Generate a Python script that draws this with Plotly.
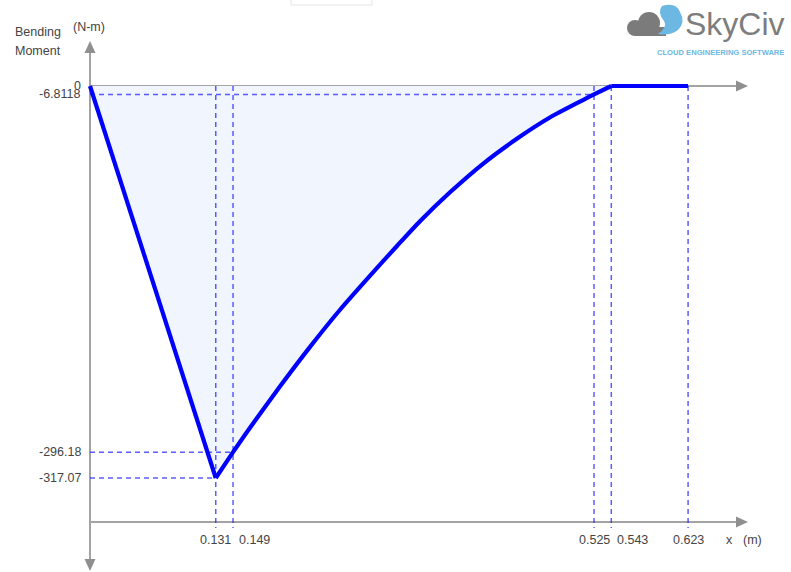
import plotly.graph_objects as go

# ---- Bending moment diagram (x in m, M in N-m) ----
# straight segment from the left support to the peak
x_rise = [0.0, 0.131]
m_rise = [0.0, -317.07]
# curved segment from the peak back to zero
x_curve = [0.131, 0.149, 0.165, 0.198, 0.229, 0.260, 0.292, 0.320, 0.344,
           0.375, 0.410, 0.445, 0.479, 0.514, 0.525, 0.543]
m_curve = [-317.07, -296.18, -278.2, -242.9, -211.2, -181.4, -153.2, -129.2, -109.2,
           -86.0, -62.5, -42.5, -25.5, -11.2, -6.8118, 0.0]
# zero-moment tail
x_tail = [0.543, 0.623]
m_tail = [0.0, 0.0]

# labelled points
x_ticks = [0.131, 0.149, 0.525, 0.543, 0.623]
x_tick_labels = ["0.131", "0.149", "0.525", "0.543", "0.623"]
y_ticks = [0.0, -6.8118, -296.18, -317.07]
y_tick_labels = ["0", "-6.8118", "-296.18", "-317.07"]
# horizontal guide lines: (x end, moment)
h_guides_x = [0.525, 0.149, 0.131]
h_guides_m = [-6.8118, -296.18, -317.07]

# ---- drawing geometry (pixels) ----
W, H = 791, 572
X0_PX, PX_PER_M = 90.0, 960.0
Y0_PX, PX_PER_NM = 86.0, 1.2363
AXIS_BOTTOM_PX = 522
GUIDE_END_PX = 528

def dx(px):
    return (px - X0_PX) / PX_PER_M

def dy(py):
    return -(py - Y0_PX) / PX_PER_NM

def px(p):
    return p / W

def py(p):
    return 1 - p / H

LINE_BLUE = "#0000ff"
FILL = "#f0f5fe"
GUIDE = "rgba(30,30,255,0.72)"
AXIS = "#a3a3a3"
TXT = "#444444"
FONT = "Liberation Sans, Arial, sans-serif"
SMOOTH = 0.6

fig = go.Figure()

# shaded area under the diagram
fig.add_trace(go.Scatter(x=x_rise, y=m_rise, mode="lines", fill="tozeroy", fillcolor=FILL,
                         line=dict(width=0), hoverinfo="skip", showlegend=False))
fig.add_trace(go.Scatter(x=x_curve, y=m_curve, mode="lines", fill="tozeroy", fillcolor=FILL,
                         line=dict(width=0, shape="spline", smoothing=SMOOTH),
                         hoverinfo="skip", showlegend=False))

# dashed guide lines
y_bottom = dy(GUIDE_END_PX)
for xv in x_ticks:
    fig.add_trace(go.Scatter(
        x=[xv, xv], y=[0, y_bottom], mode="lines",
        line=dict(color=GUIDE, width=1.5, dash="5px,4px"),
        hoverinfo="skip", showlegend=False))
for xe, mv in zip(h_guides_x, h_guides_m):
    fig.add_trace(go.Scatter(
        x=[0, xe], y=[mv, mv], mode="lines",
        line=dict(color=GUIDE, width=1.5, dash="5px,4px"),
        hoverinfo="skip", showlegend=False))

# the moment line itself
fig.add_trace(go.Scatter(x=x_rise, y=m_rise, mode="lines",
                         line=dict(color=LINE_BLUE, width=4.2), showlegend=False))
fig.add_trace(go.Scatter(x=x_curve, y=m_curve, mode="lines",
                         line=dict(color=LINE_BLUE, width=4.2, shape="spline", smoothing=SMOOTH),
                         showlegend=False))
fig.add_trace(go.Scatter(x=x_tail, y=m_tail, mode="lines",
                         line=dict(color=LINE_BLUE, width=4.2), showlegend=False))

shapes = []
# axes lines
shapes.append(dict(type="line", xref="paper", yref="paper", layer="below",
                   x0=px(90), x1=px(90), y0=py(50), y1=py(562),
                   line=dict(color=AXIS, width=2)))
shapes.append(dict(type="line", xref="paper", yref="y", layer="below",
                   x0=px(90), x1=px(740), y0=0, y1=0,
                   line=dict(color=AXIS, width=2)))
shapes.append(dict(type="line", xref="paper", yref="paper", layer="below",
                   x0=px(90), x1=px(740), y0=py(AXIS_BOTTOM_PX), y1=py(AXIS_BOTTOM_PX),
                   line=dict(color=AXIS, width=2)))

def tri(points):
    d = "M " + " L ".join(f"{px(a)},{py(b)}" for a, b in points) + " Z"
    return dict(type="path", xref="paper", yref="paper", path=d,
                fillcolor="#8f8f8f", line=dict(width=0))

shapes.append(tri([(90, 41), (84.5, 53), (95.5, 53)]))
shapes.append(tri([(90, 571), (84.5, 559), (95.5, 559)]))
shapes.append(tri([(748, 86), (736, 80.5), (736, 91.5)]))
shapes.append(tri([(748, AXIS_BOTTOM_PX), (736, AXIS_BOTTOM_PX - 5.5), (736, AXIS_BOTTOM_PX + 5.5)]))

# faint tab at the top
shapes.append(dict(type="rect", xref="paper", yref="paper",
                   x0=px(291), x1=px(372), y0=py(5), y1=py(-6),
                   line=dict(color="#e4e4e4", width=1), fillcolor="white"))

# logo: cloud mark
def circ(cx, cy, r, color):
    return dict(type="circle", xref="paper", yref="paper",
                x0=px(cx - r), x1=px(cx + r), y0=py(cy + r), y1=py(cy - r),
                fillcolor=color, line=dict(width=0))

GRAY_LOGO = "#7b7b7b"
BLUE_LOGO = "#6cb8e3"
shapes.append(circ(635, 28, 8, GRAY_LOGO))
shapes.append(circ(649, 23, 11, GRAY_LOGO))
shapes.append(dict(type="rect", xref="paper", yref="paper",
                   x0=px(635), x1=px(666), y0=py(36), y1=py(27),
                   fillcolor=GRAY_LOGO, line=dict(width=0)))
shapes.append(dict(type="path", xref="paper", yref="paper",
                   path=(f"M {px(662)},{py(6)} Q {px(676)},{py(2)} {px(680)},{py(12)} "
                         f"Q {px(686)},{py(22)} {px(678)},{py(30)} "
                         f"Q {px(670)},{py(36)} {px(658)},{py(34)} "
                         f"Q {px(668)},{py(27)} {px(664)},{py(21)} "
                         f"Q {px(657)},{py(12)} {px(662)},{py(6)} Z"),
                   fillcolor=BLUE_LOGO, line=dict(width=0)))

annotations = []

def label(x, y, text, xanchor="center", yanchor="middle", size=12.5, color=TXT,
          xref="paper", yref="paper", bold=False, xshift=0):
    annotations.append(dict(
        x=x, y=y, xref=xref, yref=yref, text=f"<b>{text}</b>" if bold else text,
        showarrow=False, xanchor=xanchor, yanchor=yanchor, xshift=xshift,
        font=dict(family=FONT, size=size, color=color)))

# y tick labels
for v, t in zip(y_ticks, y_tick_labels):
    label(px(83), v, t, xanchor="right", yref="y")

# x tick labels (crowded neighbours are pushed right)
prev = None
for v, t in zip(x_ticks, x_tick_labels):
    shift = 21 if (prev is not None and v - prev < 0.03) else 0
    label(v, py(540), t, xref="x", xshift=shift)
    prev = v

label(px(729), py(540), "x")
label(px(752), py(540), "(m)")
label(px(13), py(32), "Bending", xanchor="left")
label(px(13), py(51), "Moment", xanchor="left")
label(px(89), py(27), "(N-m)")

# logo wordmark
label(px(683), py(24), "SkyCiv", xanchor="left", size=32, color="#7d7d7d")
label(px(720), py(52), "CLOUD ENGINEERING SOFTWARE", size=7.6, color=BLUE_LOGO, bold=True)

fig.update_layout(
    width=W, height=H,
    margin=dict(l=0, r=0, t=0, b=0),
    paper_bgcolor="white", plot_bgcolor="white",
    xaxis=dict(range=[dx(0), dx(W)], visible=False, fixedrange=True),
    yaxis=dict(range=[dy(H), dy(0)], visible=False, fixedrange=True),
    shapes=shapes, annotations=annotations, showlegend=False,
)

fig.write_html("out.html")
